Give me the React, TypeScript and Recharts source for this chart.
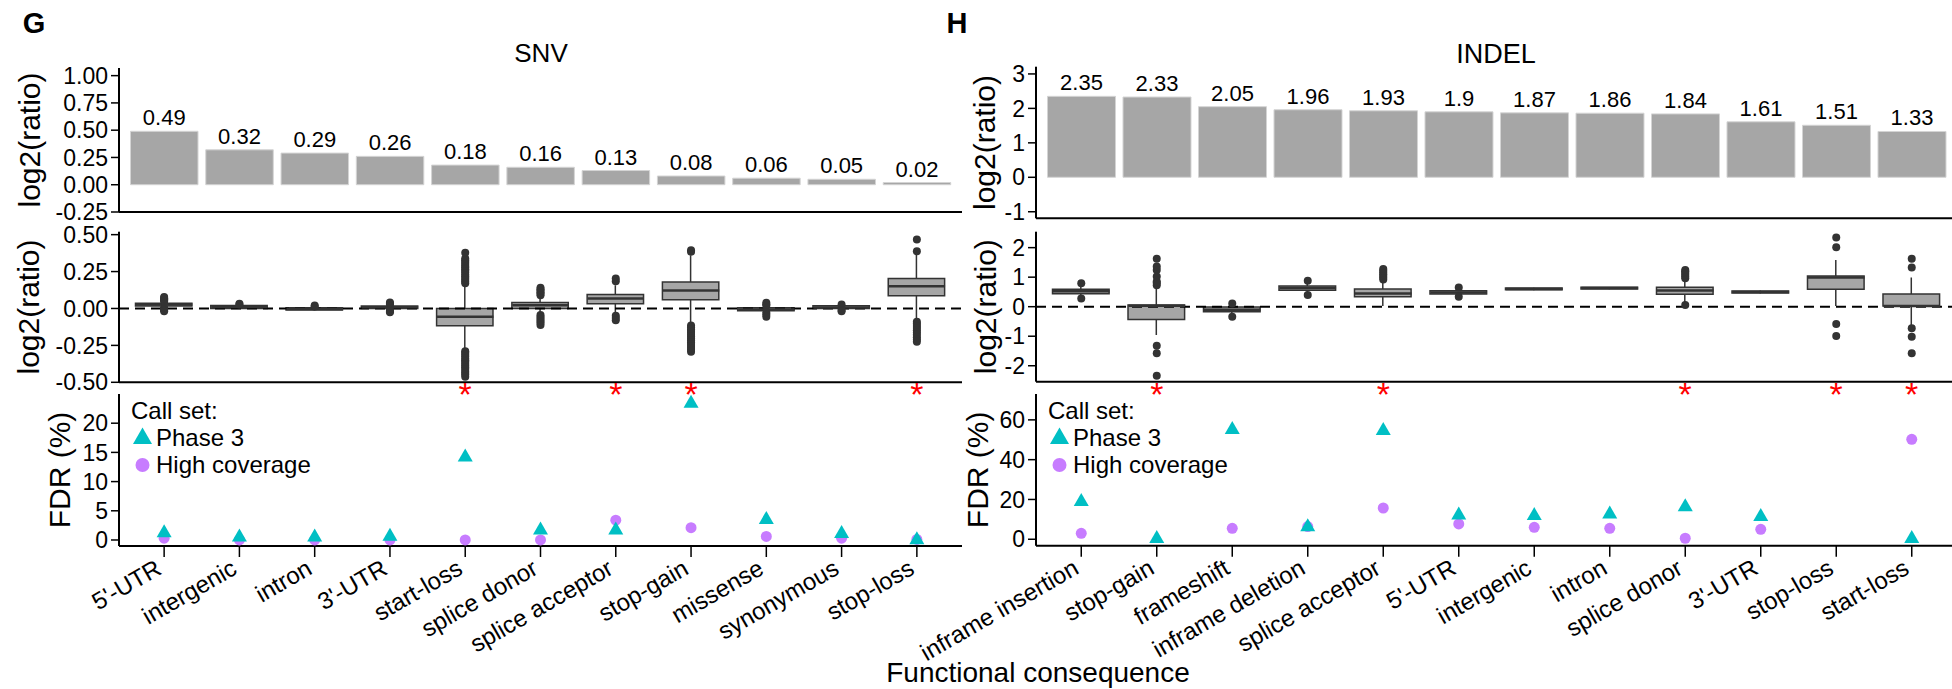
import React from "react";
import {
  ComposedChart,
  Bar,
  Scatter,
  XAxis,
  YAxis,
  ReferenceLine,
  LabelList,
  Legend,
} from "recharts";

const FONT = "'Liberation Sans', Arial, Helvetica, sans-serif";
const PHASE3 = "#00BFC4";
const HIGH_COV = "#C77CFF";
const GREY = "#a6a6a6";
const DARK = "#333333";
const PAD = { left: 7.5, right: 7.5 };
const AXIS_LINE = { stroke: "#000", strokeWidth: 2 };
const TICK_LINE = { stroke: "#000", strokeWidth: 1.5 };

// ---------- SNV ----------
const snvCategories = [
  "5'-UTR", "intergenic", "intron", "3'-UTR", "start-loss", "splice donor",
  "splice acceptor", "stop-gain", "missense", "synonymous", "stop-loss",
];
const snvLog2Ratio = [0.49, 0.32, 0.29, 0.26, 0.18, 0.16, 0.13, 0.08, 0.06, 0.05, 0.02];
const snvQ1 = [0.016, 0.0, -0.011, 0.0, -0.117, 0.0, 0.032, 0.059, -0.016, 0.0, 0.086];
const snvMedian = [0.027, 0.01, -0.003, 0.008, -0.056, 0.022, 0.068, 0.122, -0.007, 0.007, 0.151];
const snvQ3 = [0.036, 0.02, 0.005, 0.016, 0.0, 0.04, 0.095, 0.18, 0.005, 0.018, 0.203];
const snvWhiskerLow = [0.008, -0.003, -0.012, -0.004, -0.277, -0.035, -0.027, -0.108, -0.02, -0.004, -0.075];
const snvWhiskerHigh = [0.044, 0.022, 0.008, 0.02, 0.162, 0.08, 0.158, 0.36, 0.01, 0.022, 0.37];
const snvOutliers = [
  [0.048, 0.056, 0.063, 0.07, 0.077, 0.004, -0.004, -0.011, -0.018],
  [0.027, 0.032],
  [0.013, 0.02],
  [0.027, 0.034, 0.04, -0.01, -0.018, -0.026],
  [0.17, 0.183, 0.195, 0.206, 0.219, 0.23, 0.243, 0.255, 0.266, 0.279, 0.29, 0.303, 0.315, 0.326, 0.338, 0.378,
    -0.289, -0.3, -0.313, -0.325, -0.338, -0.35, -0.361, -0.374, -0.386, -0.398, -0.41, -0.423, -0.436, -0.448, -0.462],
  [0.09, 0.1, 0.11, 0.12, 0.13, 0.14, -0.045, -0.058, -0.071, -0.084, -0.097, -0.112],
  [0.185, 0.203, -0.05, -0.064, -0.079],
  [0.385, 0.395, -0.115, -0.127, -0.14, -0.152, -0.165, -0.178, -0.19, -0.203, -0.216, -0.228, -0.241, -0.254, -0.267, -0.28, -0.293],
  [0.018, 0.028, 0.038, -0.027, -0.041, -0.056],
  [0.027, -0.01, -0.018],
  [0.387, 0.468, -0.09, -0.104, -0.118, -0.133, -0.148, -0.163, -0.178, -0.195, -0.21, -0.225],
];
const snvSignificant = ["start-loss", "splice acceptor", "stop-gain", "stop-loss"];
const snvFdrPhase3 = [1.2, 0.5, 0.5, 0.6, 14.2, 1.7, 1.7, 23.4, 3.5, 1.1, 0.0];
const snvFdrHighCoverage = [0.3, 0, 0, 0, 0, 0, 3.4, 2.1, 0.6, 0.3, 0.1];

// ---------- INDEL ----------
const indelCategories = [
  "inframe insertion", "stop-gain", "frameshift", "inframe deletion", "splice acceptor",
  "5'-UTR", "intergenic", "intron", "splice donor", "3'-UTR", "stop-loss", "start-loss",
];
const indelLog2Ratio = [2.35, 2.33, 2.05, 1.96, 1.93, 1.9, 1.87, 1.86, 1.84, 1.61, 1.51, 1.33];
const indelQ1 = [0.44, -0.43, -0.17, 0.56, 0.34, 0.43, 0.57, 0.6, 0.42, 0.46, 0.59, 0.02];
const indelMedian = [0.52, 0.03, -0.1, 0.63, 0.45, 0.48, 0.6, 0.63, 0.55, 0.5, 0.99, 0.02];
const indelQ3 = [0.59, 0.06, -0.01, 0.7, 0.6, 0.54, 0.63, 0.66, 0.66, 0.53, 1.04, 0.43];
const indelWhiskerLow = [0.35, -0.96, -0.25, 0.48, 0.02, 0.38, 0.56, 0.59, 0.12, 0.45, 0.02, -0.62];
const indelWhiskerHigh = [0.7, 0.68, 0.05, 0.8, 0.88, 0.6, 0.64, 0.67, 0.9, 0.55, 1.58, 0.99];
const indelOutliers = [
  [0.79, 0.28],
  [0.73, 0.8, 0.85, 1.02, 1.24, 1.36, 1.62, -1.32, -1.58, -2.34],
  [0.11, -0.34],
  [0.88, 0.4],
  [0.92, 0.98, 1.04, 1.1, 1.16, 1.22, 1.28],
  [0.65, 0.34],
  [],
  [],
  [0.96, 1.02, 1.08, 1.14, 1.2, 1.24, 0.06],
  [],
  [2.01, 2.34, -0.59, -0.99],
  [1.33, 1.62, -0.73, -1.02, -1.58],
];
const indelSignificant = ["stop-gain", "splice acceptor", "splice donor", "stop-loss", "start-loss"];
const indelFdrPhase3 = [18.9, 0.3, 55.1, 6.2, 54.6, 12.1, 11.8, 12.6, 16.3, 11.3, null, 0.3];
const indelFdrHighCoverage = [3.0, null, 5.5, 6.4, 15.7, 7.7, 6.0, 5.5, 0.5, 5.0, null, 50.2];

type PanelSpec = {
  categories: string[];
  ratio: number[];
  q1: number[];
  median: number[];
  q3: number[];
  whiskerLow: number[];
  whiskerHigh: number[];
  outliers: number[][];
  significant: string[];
  phase3: (number | null)[];
  highCoverage: (number | null)[];
  left: number;
  plotLeft: number;
  plotRight: number;
  barWidth: number;
  boxWidth: number;
  barTop: number;
  barBottom: number;
  barDomain: number[];
  barTicks: number[];
  boxTop: number;
  boxBottom: number;
  boxDomain: number[];
  boxTicks: number[];
  fdrTop: number;
  fdrBottom: number;
  fdrDomain: number[];
  fdrTicks: number[];
  fmt: (v: number) => string;
  ratioLabelX: number;
  fdrLabelX: number;
  legendX: number;
};

const yAxisProps = (domain: number[], ticks: number[], fmt: (v: number) => string, width: number) => ({
  type: "number" as const,
  domain,
  ticks,
  allowDataOverflow: true,
  interval: 0 as const,
  width,
  tickFormatter: fmt,
  tickSize: 8,
  tickMargin: 3,
  axisLine: AXIS_LINE,
  tickLine: TICK_LINE,
  tick: { fontSize: 23, fill: "#000", fontFamily: FONT },
});

// axis title drawn through the axis' own label slot, centred on the axis height
const yLabel = (value: string, x: number) => (props: any) => {
  const vb = props.viewBox ?? {};
  const cy = (vb.y ?? 0) + (vb.height ?? 0) / 2;
  return (
    <text
      x={x}
      y={cy}
      transform={`rotate(-90, ${x}, ${cy})`}
      textAnchor="middle"
      dominantBaseline="central"
      fontSize={30}
      fontFamily={FONT}
      fill="#000"
    >
      {value}
    </text>
  );
};

const WhiskerShape = (props: any) => {
  const { x, y, width, height } = props;
  const cx = x + width / 2;
  const top = Math.min(y, y + height);
  const bottom = Math.max(y, y + height);
  return <line x1={cx} x2={cx} y1={top} y2={bottom} stroke={DARK} strokeWidth={1.5} />;
};

const medianShape = (w: number) => (props: any) => (
  <line x1={props.cx - w / 2} x2={props.cx + w / 2} y1={props.cy} y2={props.cy} stroke={DARK} strokeWidth={2.5} />
);

const OutlierShape = (props: any) => <circle cx={props.cx} cy={props.cy} r={4} fill={DARK} />;

const CircleShape = (props: any) => <circle cx={props.cx} cy={props.cy} r={5.5} fill={HIGH_COV} />;

const TriangleShape = (props: any) => {
  const { cx, cy } = props;
  const s = 7.5;
  const r = s / 0.866;
  return (
    <polygon
      points={`${cx},${cy - r} ${cx - s},${cy + r / 2} ${cx + s},${cy + r / 2}`}
      fill={PHASE3}
    />
  );
};

const StarTick = (props: any) => {
  const { x, y, payload, significant } = props;
  if (!significant.includes(payload.value)) return <g />;
  return (
    <text x={x} y={y + 24} textAnchor="middle" fontSize={34} fill="#ff0000" fontFamily={FONT}>
      *
    </text>
  );
};

const CategoryTick = (props: any) => {
  const { x, y, payload, categories } = props;
  const ax = x - 1;
  const ay = y + 14;
  return (
    <text
      x={ax}
      y={ay}
      transform={`rotate(-30, ${ax}, ${ay})`}
      textAnchor="end"
      fontSize={24}
      fontFamily={FONT}
      fill="#000"
    >
      {categories[payload.value]}
    </text>
  );
};

const legendMarker: Record<string, React.ReactNode> = {
  "Phase 3": <polygon points="11.5,3.5 2,20 21,20" fill={PHASE3} />,
  "High coverage": <circle cx={11.5} cy={14} r={7} fill={HIGH_COV} />,
};

const FdrLegend = ({ payload }: any) => {
  const items = [...(payload ?? [])].reverse();
  return (
    <div style={{ fontFamily: FONT, fontSize: 24, lineHeight: "27px", color: "#000", whiteSpace: "nowrap" }}>
      <div>Call set:</div>
      {items.map((item: any) => (
        <div key={item.value} style={{ display: "flex", alignItems: "center", height: 27 }}>
          <svg width={25} height={27}>{legendMarker[item.value]}</svg>
          <span>{item.value}</span>
        </div>
      ))}
    </div>
  );
};

function RatioBars({ s }: { s: PanelSpec }) {
  const rows = s.categories.map((cat, i) => ({ cat, ratio: s.ratio[i] }));
  return (
    <div style={{ position: "absolute", left: s.left, top: 0 }}>
      <ComposedChart
        width={s.plotRight - s.left}
        height={s.barBottom + 20}
        data={rows}
        margin={{ top: s.barTop, right: 0, bottom: 0, left: 0 }}
      >
        <XAxis dataKey="cat" padding={PAD} height={20} tick={false} tickLine={false} axisLine={AXIS_LINE} />
        <YAxis
          {...yAxisProps(s.barDomain, s.barTicks, s.fmt, s.plotLeft - s.left)}
          label={yLabel("log2(ratio)", s.ratioLabelX - s.left)}
        />
        <Bar dataKey="ratio" barSize={s.barWidth} fill={GREY} stroke="#d4d4d4" strokeWidth={1} isAnimationActive={false}>
          <LabelList dataKey="ratio" position="top" offset={6} fontSize={22} fill="#000" fontFamily={FONT} />
        </Bar>
      </ComposedChart>
    </div>
  );
}

function RatioBoxes({ s }: { s: PanelSpec }) {
  const n = s.categories.length;
  const rows = s.categories.map((cat, i) => ({
    cat,
    box: [s.q1[i], s.q3[i]],
    whisker: [s.whiskerLow[i], s.whiskerHigh[i]],
  }));
  const medians = s.median.map((y, i) => ({ x: i, y }));
  const outlierPts = s.outliers.flatMap((vals, i) => vals.map((y) => ({ x: i, y })));
  return (
    <div style={{ position: "absolute", left: s.left, top: 0 }}>
      <ComposedChart
        width={s.plotRight - s.left}
        height={s.boxBottom + 44}
        data={rows}
        margin={{ top: s.boxTop, right: 0, bottom: 0, left: 0 }}
      >
        <XAxis
          xAxisId="box"
          dataKey="cat"
          padding={PAD}
          height={44}
          interval={0}
          tickLine={false}
          tickSize={0}
          tickMargin={0}
          axisLine={AXIS_LINE}
          tick={(p: any) => <StarTick {...p} significant={s.significant} />}
        />
        <XAxis xAxisId="whisker" dataKey="cat" padding={PAD} hide />
        <XAxis xAxisId="idx" type="number" dataKey="x" domain={[-0.5, n - 0.5]} allowDataOverflow padding={PAD} hide />
        <YAxis
          {...yAxisProps(s.boxDomain, s.boxTicks, s.fmt, s.plotLeft - s.left)}
          label={yLabel("log2(ratio)", s.ratioLabelX - s.left)}
        />
        <Bar xAxisId="whisker" dataKey="whisker" barSize={s.boxWidth} shape={WhiskerShape} isAnimationActive={false} />
        <Bar xAxisId="box" dataKey="box" barSize={s.boxWidth} fill={GREY} stroke={DARK} strokeWidth={1.5} isAnimationActive={false} />
        <Scatter xAxisId="idx" data={medians} dataKey="y" shape={medianShape(s.boxWidth)} isAnimationActive={false} />
        <Scatter xAxisId="idx" data={outlierPts} dataKey="y" shape={OutlierShape} isAnimationActive={false} />
        <ReferenceLine xAxisId="box" y={0} stroke="#000" strokeWidth={2} strokeDasharray="10 6" />
      </ComposedChart>
    </div>
  );
}

function FdrPoints({ s }: { s: PanelSpec }) {
  const n = s.categories.length;
  const idx = s.categories.map((_, i) => i);
  const phase3Pts = s.phase3.map((y, i) => ({ x: i, y })).filter((p) => p.y !== null);
  const highPts = s.highCoverage.map((y, i) => ({ x: i, y })).filter((p) => p.y !== null);
  return (
    <div style={{ position: "absolute", left: s.left, top: 0 }}>
      <ComposedChart
        width={s.plotRight - s.left}
        height={689}
        margin={{ top: s.fdrTop, right: 0, bottom: 0, left: 0 }}
      >
        <XAxis
          type="number"
          dataKey="x"
          domain={[-0.5, n - 0.5]}
          ticks={idx}
          interval={0}
          allowDataOverflow
          padding={PAD}
          height={689 - s.fdrBottom}
          tickSize={11}
          tickMargin={2}
          tickLine={TICK_LINE}
          axisLine={AXIS_LINE}
          tick={(p: any) => <CategoryTick {...p} categories={s.categories} />}
        />
        <YAxis
          {...yAxisProps(s.fdrDomain, s.fdrTicks, (v) => String(v), s.plotLeft - s.left)}
          label={yLabel("FDR (%)", s.fdrLabelX - s.left)}
        />
        <Legend
          layout="vertical"
          align="center"
          verticalAlign="middle"
          content={FdrLegend}
          wrapperStyle={{ left: s.legendX - s.left, top: 396.5, width: 260, height: 90 }}
        />
        <Scatter name="High coverage" data={highPts} dataKey="y" fill={HIGH_COV} shape={CircleShape} isAnimationActive={false} />
        <Scatter name="Phase 3" data={phase3Pts} dataKey="y" fill={PHASE3} shape={TriangleShape} isAnimationActive={false} />
      </ComposedChart>
    </div>
  );
}

const snvPanel: PanelSpec = {
  categories: snvCategories,
  ratio: snvLog2Ratio,
  q1: snvQ1,
  median: snvMedian,
  q3: snvQ3,
  whiskerLow: snvWhiskerLow,
  whiskerHigh: snvWhiskerHigh,
  outliers: snvOutliers,
  significant: snvSignificant,
  phase3: snvFdrPhase3,
  highCoverage: snvFdrHighCoverage,
  left: 0,
  plotLeft: 119,
  plotRight: 962,
  barWidth: 67.5,
  boxWidth: 56.4,
  barTop: 68,
  barBottom: 212,
  barDomain: [-0.25, 1.07],
  barTicks: [-0.25, 0, 0.25, 0.5, 0.75, 1],
  boxTop: 231.7,
  boxBottom: 382.3,
  boxDomain: [-0.5, 0.52],
  boxTicks: [-0.5, -0.25, 0, 0.25, 0.5],
  fdrTop: 394,
  fdrBottom: 546,
  fdrDomain: [-1.03, 25],
  fdrTicks: [0, 5, 10, 15, 20],
  fmt: (v) => v.toFixed(2),
  ratioLabelX: 29,
  fdrLabelX: 59,
  legendX: 131,
};

const indelPanel: PanelSpec = {
  categories: indelCategories,
  ratio: indelLog2Ratio,
  q1: indelQ1,
  median: indelMedian,
  q3: indelQ3,
  whiskerLow: indelWhiskerLow,
  whiskerHigh: indelWhiskerHigh,
  outliers: indelOutliers,
  significant: indelSignificant,
  phase3: indelFdrPhase3,
  highCoverage: indelFdrHighCoverage,
  left: 840,
  plotLeft: 1036,
  plotRight: 1957,
  barWidth: 68,
  boxWidth: 56.6,
  barTop: 66.7,
  barBottom: 218.3,
  barDomain: [-1.19, 3.21],
  barTicks: [-1, 0, 1, 2, 3],
  boxTop: 231.7,
  boxBottom: 381.7,
  boxDomain: [-2.54, 2.54],
  boxTicks: [-2, -1, 0, 1, 2],
  fdrTop: 394,
  fdrBottom: 545.7,
  fdrDomain: [-3.24, 73],
  fdrTicks: [0, 20, 40, 60],
  fmt: (v) => String(v),
  ratioLabelX: 985,
  fdrLabelX: 978,
  legendX: 1048,
};

export default function App() {
  return (
    <div
      style={{
        position: "absolute",
        left: 0,
        top: 0,
        width: 1952,
        height: 689,
        overflow: "hidden",
        background: "#fff",
        fontFamily: FONT,
      }}
    >
      {[snvPanel, indelPanel].map((s) => (
        <React.Fragment key={s.left}>
          <RatioBars s={s} />
          <RatioBoxes s={s} />
          <FdrPoints s={s} />
        </React.Fragment>
      ))}
      <svg
        width={1952}
        height={689}
        style={{ position: "absolute", left: 0, top: 0, pointerEvents: "none" }}
        fontFamily={FONT}
      >
        <text x={34} y={33} fontSize={29} fontWeight="bold" textAnchor="middle">G</text>
        <text x={957} y={33} fontSize={29} fontWeight="bold" textAnchor="middle">H</text>
        <text x={541} y={62} fontSize={26} textAnchor="middle">SNV</text>
        <text x={1496} y={63} fontSize={27} textAnchor="middle">INDEL</text>
        <text x={1038} y={682} fontSize={28} textAnchor="middle">Functional consequence</text>
      </svg>
    </div>
  );
}
